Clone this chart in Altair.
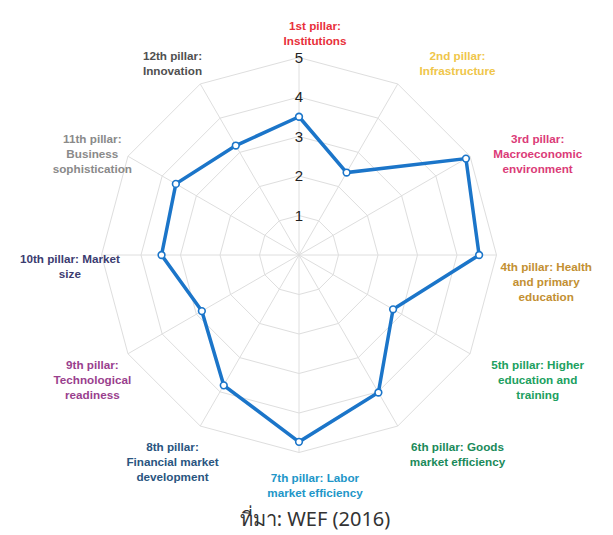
import math
import altair as alt
import pandas as pd

# ---- data ----
pillars = [
    "1st pillar:\nInstitutions",
    "2nd pillar:\nInfrastructure",
    "3rd pillar:\nMacroeconomic\nenvironment",
    "4th pillar: Health\nand primary\neducation",
    "5th pillar: Higher\neducation and\ntraining",
    "6th pillar: Goods\nmarket efficiency",
    "7th pillar: Labor\nmarket efficiency",
    "8th pillar:\nFinancial market\ndevelopment",
    "9th pillar:\nTechnological\nreadiness",
    "10th pillar: Market\nsize",
    "11th pillar:\nBusiness\nsophistication",
    "12th pillar:\nInnovation",
]
scores = [3.50, 2.41, 4.88, 4.56, 2.75, 4.02, 4.73, 3.81, 2.84, 3.48, 3.60, 3.20]
label_colors = [
    "#E8303A", "#EFC64A", "#DB3B78", "#C39032", "#20A060", "#1A8A5A",
    "#2196C8", "#2A5580", "#9A3F8E", "#3C3C70", "#8A8A8A", "#505050",
]
rings = [1, 2, 3, 4, 5]
ring_labels = ["1", "2", "3", "4", "5"]
caption = "ที่มา: WEF (2016)"

# ---- layout ----
W, H = 597, 527
CX, CY = 291, 247      # centre of the radar in plot pixels
UNIT = 39.5            # pixels per score point
n = len(pillars)
angles = [2 * math.pi * i / n for i in range(n)]

xdom = [-CX / UNIT, (W - CX) / UNIT]
ydom = [-(H - CY) / UNIT, CY / UNIT]
xs = alt.Scale(domain=xdom, nice=False, zero=False)
ys = alt.Scale(domain=ydom, nice=False, zero=False)
noax = None

# grid polygons
grid_rows = []
for r in rings:
    for k in range(n + 1):
        a = angles[k % n]
        grid_rows.append({"ring": r, "k": k, "x": r * math.sin(a), "y": r * math.cos(a)})
grid_df = pd.DataFrame(grid_rows)

# spokes
spoke_df = pd.DataFrame({
    "x": [0.0] * n, "y": [0.0] * n,
    "x2": [max(rings) * math.sin(a) for a in angles],
    "y2": [max(rings) * math.cos(a) for a in angles],
})

# series
ser_rows = []
for k in range(n + 1):
    i = k % n
    ser_rows.append({"k": k, "pillar": pillars[i], "score": scores[i],
                     "x": scores[i] * math.sin(angles[i]),
                     "y": scores[i] * math.cos(angles[i])})
ser_df = pd.DataFrame(ser_rows)

# ring value labels
tick_df = pd.DataFrame({"x": [0.0] * len(rings), "y": rings, "t": ring_labels})

# pillar labels (placed around the outer ring, kept inside the canvas)
A, B, C, D = 219 / UNIT, 33 / UNIT, 226 / UNIT, 3.5 / UNIT
lab_rows = []
for i, (p, a) in enumerate(zip(pillars, angles)):
    s = math.sin(a)
    sg = 0 if abs(s) < 1e-6 else (1 if s > 0 else -1)
    lines = p.split("\n")
    half_w = max(len(t) for t in lines) * 6.2 / 2 / UNIT
    lx = 16 / UNIT + A * s + B * sg
    lx = min(lx, xdom[1] - 3 / UNIT - half_w)
    lx = max(lx, xdom[0] + 3 / UNIT + half_w)
    ly = C * math.cos(a) + D
    if abs(math.cos(a)) < 1e-6:
        ly -= (len(lines) - 1) * 7.5 / UNIT
    lab_rows.append({"x": lx, "y": ly, "label": lines, "c": label_colors[i], "o": i})
lab_df = pd.DataFrame(lab_rows)

X = lambda: alt.X("x:Q", scale=xs, axis=noax)
Y = lambda: alt.Y("y:Q", scale=ys, axis=noax)

grid = alt.Chart(grid_df).mark_line(color="#dedede", strokeWidth=1).encode(
    x=X(), y=Y(), detail="ring:N", order="k:Q")

spokes = alt.Chart(spoke_df).mark_rule(color="#dedede", strokeWidth=1).encode(
    x=X(), y=Y(), x2="x2:Q", y2="y2:Q")

line = alt.Chart(ser_df).mark_line(color="#1B75C9", strokeWidth=3.5).encode(
    x=X(), y=Y(), order="k:Q")

pts = alt.Chart(ser_df[ser_df.k < n]).mark_point(
    filled=True, fill="white", stroke="#1B75C9", strokeWidth=1.6, size=45, opacity=1
).encode(x=X(), y=Y())

ticks = alt.Chart(tick_df).mark_text(
    fontSize=15, font="Liberation Sans", color="#222222", baseline="middle", align="center"
).encode(x=X(), y=Y(), text="t:N")

labels = alt.Chart(lab_df).mark_text(
    fontSize=11.7, font="Liberation Sans", fontWeight="bold", baseline="middle",
    align="center", lineHeight=15
).encode(x=X(), y=Y(), text="label", color=alt.Color("c:N", scale=None))

cap = alt.Chart(pd.DataFrame({"t": [caption]})).mark_text(
    fontSize=20, font="Noto Sans", color="#333333", baseline="middle", align="center"
).encode(x=alt.value(307), y=alt.value(512), text="t:N")

chart = alt.layer(grid, spokes, line, pts, ticks, labels, cap).properties(
    width=W, height=H, padding=0, autosize=alt.AutoSizeParams(type="none")
).configure_view(stroke=None)

chart.save("out.html", embed_options={"renderer": "svg", "actions": False})
